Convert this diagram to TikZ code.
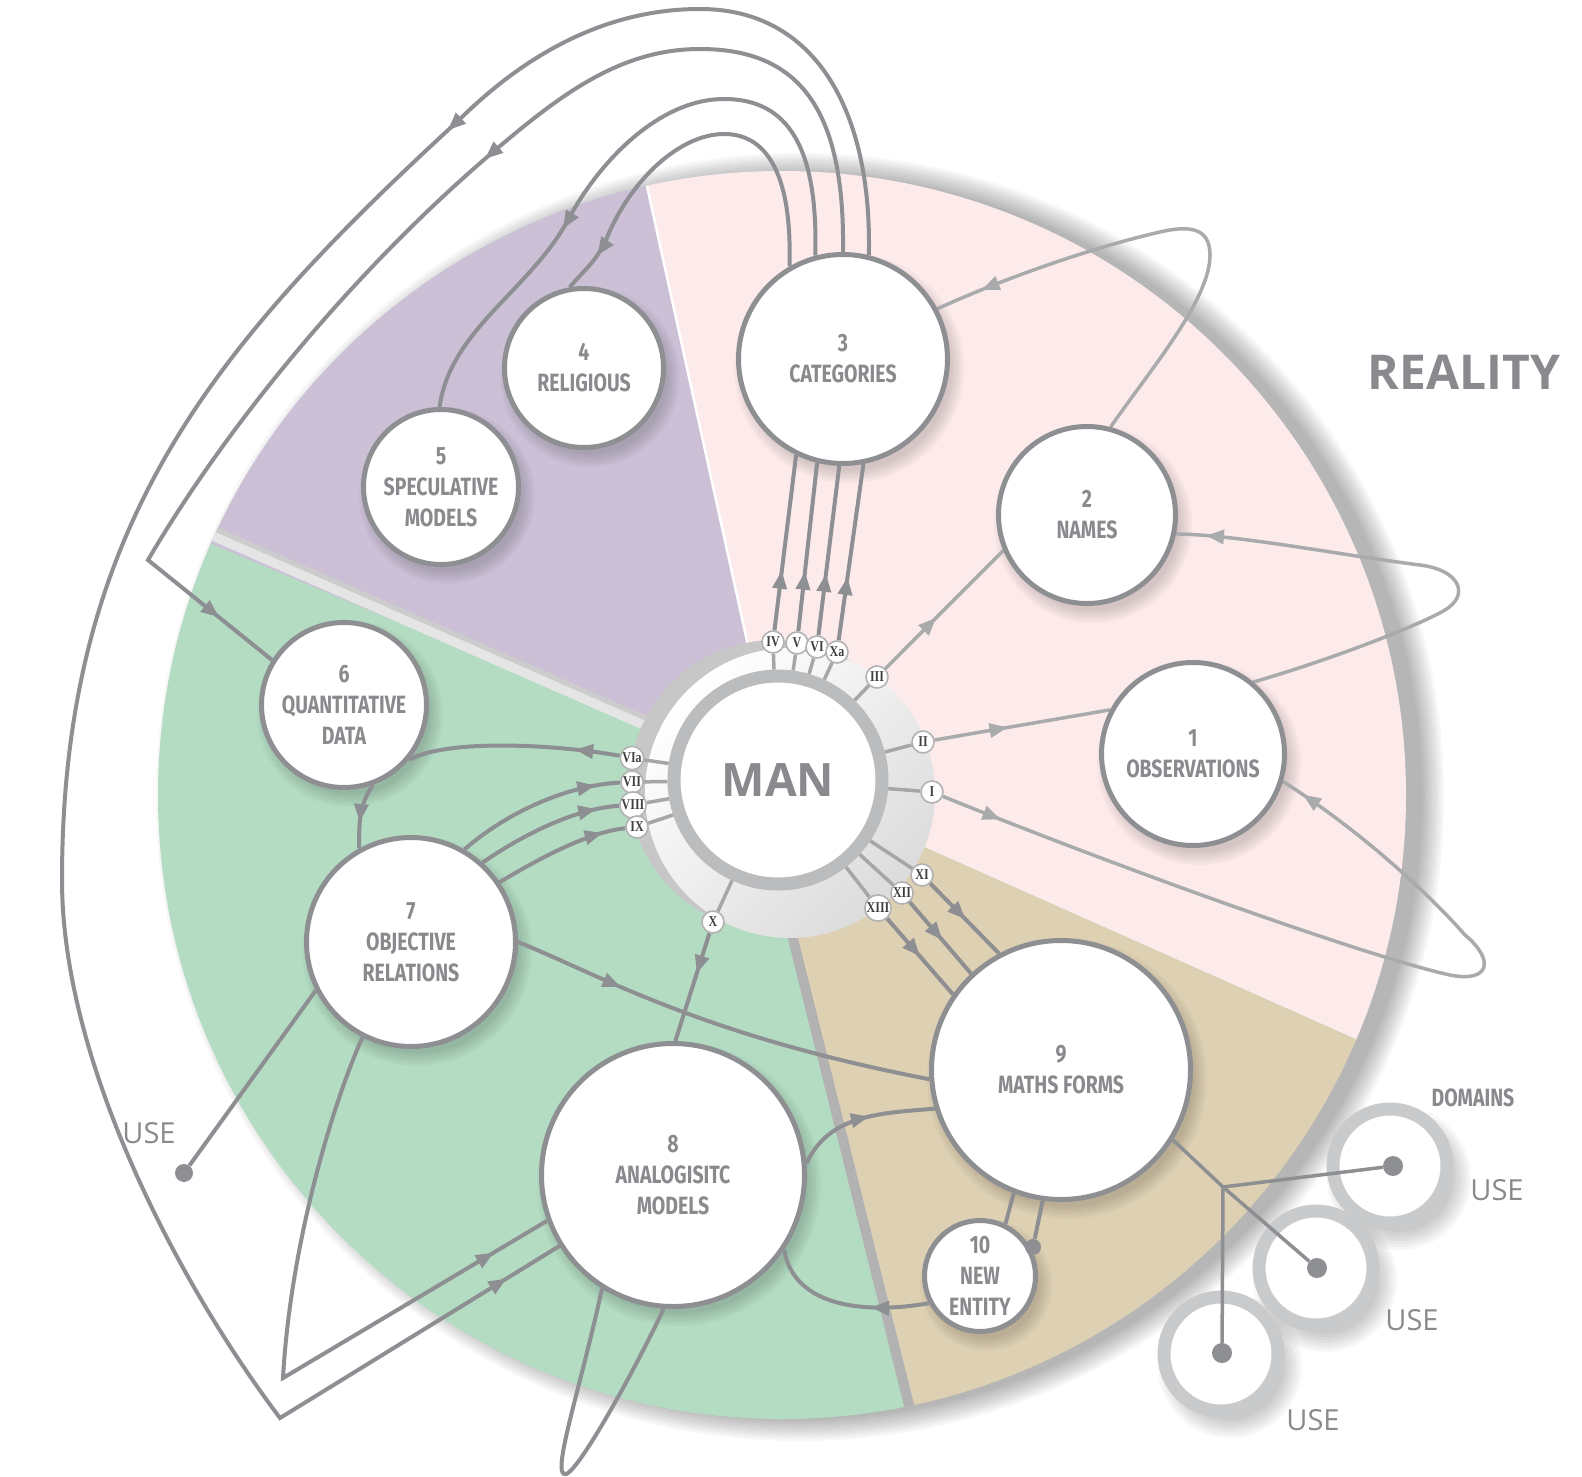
\documentclass[tikz,border=0pt]{standalone}
\usepackage{fontspec}
\setmainfont{Open Sans}
\newfontfamily\condf[FakeStretch=0.78]{Fira Sans}
\newfontfamily\romf[FakeStretch=0.8]{Liberation Serif}
\usetikzlibrary{arrows.meta,decorations.markings}
\definecolor{pinkbg}{HTML}{FDEBEB}
\definecolor{tanbg}{HTML}{DED0B2}
\definecolor{greenbg}{HTML}{B3DCC3}
\definecolor{purplebg}{HTML}{CBC0D6}
\definecolor{txtgray}{HTML}{898A8D}
\definecolor{lngray}{HTML}{8E8F92}
\definecolor{lnlight}{HTML}{A9AAAC}
\definecolor{ringgray}{HTML}{BBBCBE}
\definecolor{domring}{HTML}{C9CACC}
\pgfdeclarelayer{bg}
\pgfdeclarelayer{shad}
\pgfdeclarelayer{lines}
\pgfsetlayers{bg,shad,lines,main}
\tikzset{
  bub/.style={circle, draw=lngray, line width=5pt, fill=white, inner sep=0pt, align=center, text=txtgray, font=\condf\bfseries\fontsize{25}{31}\selectfont},
  mannode/.style={circle, draw=ringgray, line width=13pt, fill=white, inner sep=0pt, minimum size=208pt, text=txtgray, font=\bfseries\fontsize{46}{46}\selectfont},
  badge/.style={circle, draw=black!30, line width=1.6pt, fill=white, inner sep=0.6pt, minimum size=22pt, font=\romf\bfseries\fontsize{15}{15}\selectfont, text=black!75},
  conn/.style={draw=lngray, line width=4pt},
  connl/.style={draw=lnlight, line width=3.5pt},
  am/.style={postaction={decorate, decoration={markings, mark=at position #1 with {\arrow{Triangle[length=18pt,width=14pt]}}}}},
  dotn/.style={circle, fill=lngray, inner sep=0pt, minimum size=18pt},
  domr/.style={circle, draw=domring, line width=13pt, fill=white, inner sep=0pt, minimum size=114pt},
  lbl/.style={text=txtgray, inner sep=0pt},
}
\newcommand\nshad[2]{\foreach \k in {0,...,5}{\fill[black,opacity=0.028] ([shift={(6,9)}]#1.center) circle ({#2+9-2.5*\k});}}
\begin{document}
\begin{tikzpicture}[x=1pt,y=-1pt]
\useasboundingbox (0,0) rectangle (1582,1477);
\coordinate (A) at (778,782);
\coordinate (C) at (782,795);

% ---------- nodes ----------
\node[mannode] (man) at (778,780) {MAN};
\node[bub, minimum size=183pt] (n1) at (1193,754) {1\\OBSERVATIONS};
\node[bub, minimum size=177pt] (n2) at (1087,515) {2\\NAMES};
\node[bub, minimum size=209pt] (n3) at (843,359) {3\\CATEGORIES};
\node[bub, minimum size=159pt] (n4) at (584,368) {4\\RELIGIOUS};
\node[bub, minimum size=155pt] (n5) at (441,487) {5\\SPECULATIVE\\MODELS};
\node[bub, minimum size=165pt] (n6) at (344,705) {6\\QUANTITATIVE\\DATA};
\node[bub, minimum size=209pt] (n7) at (411,942) {7\\OBJECTIVE\\RELATIONS};
\node[bub, minimum size=263pt] (n8) at (673,1175) {8\\ANALOGISITC\\MODELS};
\node[bub, minimum size=259pt] (n9) at (1061,1070) {9\\MATHS FORMS};
\node[bub, minimum size=111pt] (n10) at (980,1276) {10\\NEW\\ENTITY};

\foreach \n/\x/\y/\t in {bIV/773/642/IV, bV/797/643/V, bVI/817/647/VI, bXa/837/652/Xa, bIII/877/677/III, bII/923/742/II, bI/932/792/I, bXI/922/875/XI, bXII/902/893/XII, bXIII/878/908/XIII, bX/713/922/X, bVIa/632/758/VIa, bVII/632/782/VII, bVIII/633/805/VIII, bIX/637/827/IX}
  \node[badge] (\n) at (\x,\y) {\t};

\node[dotn] (dL) at (184,1173) {};
\node[dotn, minimum size=16pt] (d10) at (1033,1247) {};
\node[dotn, minimum size=20pt] (dT) at (1393,1166) {};
\node[dotn, minimum size=20pt] (dM) at (1317,1268) {};
\node[dotn, minimum size=20pt] (dB) at (1222,1353) {};
\coordinate (br) at (1223,1187);

\node[lbl, font=\bfseries\fontsize{48}{48}\selectfont] (real) at (1464,372) {REALITY};
\node[lbl, font=\condf\bfseries\fontsize{25}{25}\selectfont] (dom) at (1473,1098) {DOMAINS};
\node[lbl, font=\fontsize{29}{29}\selectfont] (u1) at (1497,1190) {USE};
\node[lbl, font=\fontsize{29}{29}\selectfont] (u2) at (1412,1320) {USE};
\node[lbl, font=\fontsize{29}{29}\selectfont] (u3) at (1313,1420) {USE};
\node[lbl, font=\fontsize{29}{29}\selectfont] (u4) at (149,1133) {USE};

% ---------- background ----------
\begin{pgfonlayer}{bg}
  \fill[white] (0,0) rectangle (1582,1477);
  \foreach \k in {0,...,9} \fill[black,opacity=0.03] (800,797) circle ({644-2.4*\k});
  \begin{scope}
    \clip (C) circle (624);
    \fill[pinkbg] (A) -- +(-102.4:1500) -- +(-60:1500) -- +(-15:1500) -- +(24:1500) -- cycle;
    \fill[tanbg] (A) -- +(24:1500) -- +(60:1500) -- (1141,2338) -- (754,782) -- cycle;
    \fill[greenbg] (A) -- (754,782) -- (1141,2338) -- ([shift={(-250:1500)}]A) -- ([shift={(-200:1500)}]A) -- ([shift={(-175:1500)}]A) -- ([shift={(-155.5:1500)}]A) -- cycle;
    \fill[purplebg] (A) -- +(-102.4:1500) -- +(-130:1500) -- +(-157.2:1500) -- cycle;
    \draw[white, line width=2.5pt] (A) -- +(-102.4:1500);
    \draw[white!90!black, line width=13pt] (A) -- +(-156.3:1500);
    \draw[black!20, line width=5pt] ([shift={(2,-5)}]A) -- +(-156.3:1500);
    \draw[black!30, line width=10pt] (754,782) -- (1141,2338);
  \end{scope}
  \fill[black!22] (775,786) circle (146);
  \shade[top color=white, bottom color=black!14, shading angle=45] (790,793) circle (145);
\end{pgfonlayer}

% ---------- shadows & domain rings ----------
\begin{pgfonlayer}{shad}
  \nshad{n1}{93}\nshad{n2}{90}\nshad{n3}{106}\nshad{n4}{81}\nshad{n5}{79}
  \nshad{n6}{84}\nshad{n7}{106}\nshad{n8}{133}\nshad{n9}{131}\nshad{n10}{57}
  \foreach \p in {(1390,1166),(1316,1268),(1221,1354)}
    \foreach \k in {0,...,6} \fill[black,opacity=0.03] \p ++(9,12) circle ({72-3*\k});
  \node[domr] (r1) at (1390,1166) {};
  \node[domr] (r2) at (1316,1268) {};
  \node[domr] (r3) at (1221,1354) {};
\end{pgfonlayer}

% ---------- connectors ----------
\begin{pgfonlayer}{lines}
  % stubs from MAN
  \foreach \n in {bIV,bV,bVI,bXa,bIII,bII,bI,bXI,bXII,bXIII,bX,bVIa,bVII,bVIII,bIX}
    \draw[conn, draw=black!35, line width=3.5pt] (man) -- (\n);
  % MAN -> CATEGORIES
  \draw[conn, am=60pt] (bIV) -- (n3.244);
  \draw[conn, am=60pt] (bV) -- (n3.256);
  \draw[conn, am=62pt] (bVI) -- (n3.268);
  \draw[conn, am=64pt] (bXa) -- (n3.281);
  % CATEGORIES loops
  \draw[conn, am=625pt, am=-62pt] (n3.76) .. controls (872,110) and (815,9) .. (700,9) .. controls (600,9) and (520,60) .. (460,119) .. controls (220,340) and (62,520) .. (62,880) .. controls (62,1060) and (176,1280) .. (280,1418) -- (n8.212);
  \draw[conn, am=533pt, am=-68pt] (n3.90) .. controls (845,110) and (800,49) .. (700,49) .. controls (620,49) and (560,95) .. (493,152) .. controls (360,265) and (230,420) .. (148,560) -- (n6.148);
  \draw[conn, am=423pt] (n3.105) .. controls (818,150) and (790,99) .. (724,99) .. controls (660,99) and (600,160) .. (568,220) .. controls (530,290) and (450,330) .. (n5.91);
  \draw[conn, am=350pt] (n3.120) .. controls (792,180) and (770,134) .. (724,134) .. controls (680,134) and (630,180) .. (606,240) .. controls (596,262) and (582,272) .. (n4.100);
  % right side
  \draw[connl, am=72pt] (bIII) -- (n2.203);
  \draw[connl, am=74pt] (bII) -- (n1.152);
  \draw[connl, am=62pt, am=-24pt] (bI) .. controls (1150,880) and (1380,960) .. (1450,975) .. controls (1490,983) and (1495,960) .. (1465,935) .. controls (1430,895) and (1360,830) .. (n1.-17);
  \draw[connl, am=-30pt] (n1.50) .. controls (1330,660) and (1420,625) .. (1445,610) .. controls (1470,595) and (1460,570) .. (1420,565) .. controls (1340,555) and (1240,535) .. (n2.-12);
  \draw[connl, am=-48pt] (n2.75) .. controls (1150,370) and (1210,300) .. (1210,255) .. controls (1210,228) and (1190,225) .. (1160,232) .. controls (1090,248) and (1000,280) .. (n3.28);
  % to MATHS FORMS
  \draw[conn, am=50pt] (bXI) -- (n9.118.5);
  \draw[conn, am=50pt] (bXII) -- (n9.133);
  \draw[conn, am=50pt] (bXIII) -- (n9.145.5);
  % left side
  \draw[conn, am=45pt] (bVIa) .. controls (560,745) and (450,738) .. (n6.-40);
  \draw[conn, am=0.6] (n6.-70) to[out=-125, in=90] (n7.119);
  \draw[conn, am=-25pt] (n7.60) .. controls (510,810) and (570,785) .. (bVII);
  \draw[conn, am=-23pt] (n7.48) .. controls (530,830) and (580,808) .. (bVIII);
  \draw[conn, am=-23pt] (n7.34) .. controls (545,855) and (590,832) .. (bIX);
  \draw[conn] (n7.207) -- (dL);
  \draw[conn, am=-62pt] (n7.243) .. controls (330,1110) and (290,1250) .. (283,1378) -- (n8.200);
  \draw[conn, am=112pt] (n7.0) .. controls (600,975) and (700,1035) .. (n9.184);
  \draw[conn, am=42pt] (bX) -- (n8.89);
  \draw[conn, am=0.55] (n8.5) to[out=65, in=185] (n9.197);
  \draw[conn, am=58pt] (n10.208) to[out=190, in=-80] (n8.-34);
  \draw[conn] (n8.238) .. controls (580,1390) and (550,1478) .. (566,1474) .. controls (580,1470) and (640,1360) .. (n8.266);
  \draw[conn] (n9.249) -- (n10.64);
  \draw[conn] (n9.262) -- (d10);
  \draw[conn, line width=3.5pt] (n9.-32) -- (br) -- (dM);
  \draw[conn, line width=3.5pt] (br) -- (dT);
  \draw[conn, line width=3.5pt] (br) -- (dB);
\end{pgfonlayer}
\end{tikzpicture}
\end{document}
